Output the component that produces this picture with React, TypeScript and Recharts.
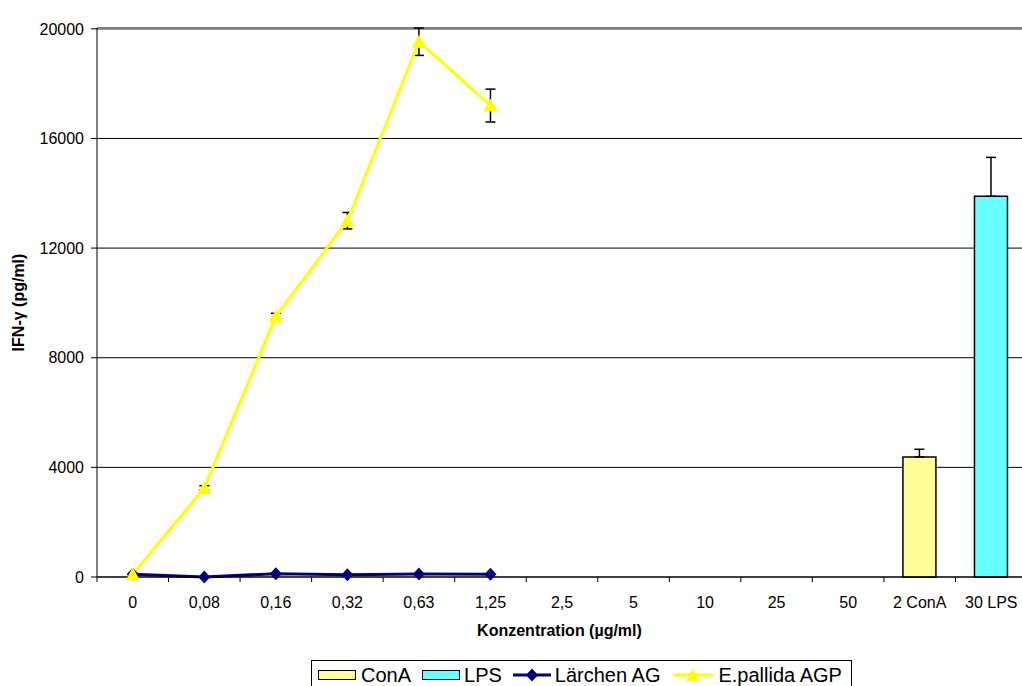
import {
  Bar,
  CartesianGrid,
  ComposedChart,
  ErrorBar,
  Label,
  Line,
  ReferenceLine,
  XAxis,
  YAxis,
} from 'recharts'

const categories = ['0', '0,08', '0,16', '0,32', '0,63', '1,25', '2,5', '5', '10', '25', '50', '2 ConA', '30 LPS']
const pallidaValues = [100, 3250, 9500, 13000, 19530, 17200, null, null, null, null, null, null, null]
const pallidaErrors = [30, 80, 120, 300, 500, 600, null, null, null, null, null, null, null]
const laerchenValues = [100, 0, 120, 80, 110, 100, null, null, null, null, null, null, null]
const conAValues = [null, null, null, null, null, null, null, null, null, null, null, 4380, null]
const conAErrors = [null, null, null, null, null, null, null, null, null, null, null, 280, null]
const lpsValues = [null, null, null, null, null, null, null, null, null, null, null, null, 13890]
const lpsErrors = [null, null, null, null, null, null, null, null, null, null, null, null, 1420]
const yTicks = [0, 4000, 8000, 12000, 16000, 20000]

const data = categories.map((name, i) => ({
  name,
  pallida: pallidaValues[i],
  pallidaErr: pallidaErrors[i],
  laerchen: laerchenValues[i],
  conA: conAValues[i],
  conAErr: conAErrors[i] == null ? null : [0, conAErrors[i]],
  lps: lpsValues[i],
  lpsErr: lpsErrors[i] == null ? null : [0, lpsErrors[i]],
}))

const FONT = "'Liberation Sans', Arial, sans-serif"
// plot area runs a little past the right edge of the picture
const CHART_W = 1027
const HALF_BAND = (CHART_W - 97) / categories.length / 2

function CategoryTick(props: any) {
  const { x, y, payload, index } = props
  return (
    <g>
      <line x1={x - HALF_BAND} x2={x - HALF_BAND} y1={y} y2={y + 5} stroke='#000' />
      {index === categories.length - 1 && (
        <line x1={x + HALF_BAND} x2={x + HALF_BAND} y1={y} y2={y + 5} stroke='#000' />
      )}
      <text x={x} y={y + 31} textAnchor='middle' fontSize={16} fontFamily={FONT} fill='#000'>
        {payload.value}
      </text>
    </g>
  )
}

function Triangle(props: any) {
  const { cx, cy, index } = props
  if (cx == null || cy == null) return <g key={'t' + index} />
  return (
    <polygon
      key={'t' + index}
      points={`${cx},${cy - 7} ${cx - 7},${cy + 6} ${cx + 7},${cy + 6}`}
      fill='#FFFF00'
    />
  )
}

function Diamond(props: any) {
  const { cx, cy, index } = props
  if (cx == null || cy == null) return <g key={'d' + index} />
  return (
    <polygon
      key={'d' + index}
      points={`${cx},${cy - 6.5} ${cx + 6},${cy} ${cx},${cy + 6.5} ${cx - 6},${cy}`}
      fill='#000080'
    />
  )
}

function LegendBox() {
  const text = { marginRight: 11, lineHeight: '20px' }
  return (
    <div
      style={{
        position: 'absolute',
        left: 311,
        top: 660,
        width: 541,
        height: 28,
        border: '1px solid #000',
        borderBottom: 'none',
        boxSizing: 'border-box',
        display: 'flex',
        alignItems: 'center',
        paddingLeft: 6,
        fontFamily: FONT,
        fontSize: 20,
        color: '#000',
        background: '#fff',
      }}
    >
      <svg width={38} height={10} style={{ marginRight: 5 }}>
        <rect x={0.5} y={0.5} width={37} height={9} fill='#FFFF99' stroke='#000' />
      </svg>
      <span style={text}>ConA</span>
      <svg width={38} height={10} style={{ marginRight: 4 }}>
        <rect x={0.5} y={0.5} width={37} height={9} fill='#66FFFF' stroke='#000' />
      </svg>
      <span style={text}>LPS</span>
      <svg width={38} height={14} style={{ marginRight: 4 }}>
        <line x1={0} x2={38} y1={7} y2={7} stroke='#000080' strokeWidth={3} />
        <polygon points='19,0.5 25,7 19,13.5 13,7' fill='#000080' />
      </svg>
      <span style={{ marginRight: 13, lineHeight: '20px' }}>Lärchen AG</span>
      <svg width={40} height={14} style={{ marginRight: 5 }}>
        <line x1={0} x2={40} y1={7} y2={7} stroke='#FFFF00' strokeWidth={3} />
        <polygon points='20,0.5 27,13 13,13' fill='#FFFF00' />
      </svg>
      <span style={{ lineHeight: '20px' }}>E.pallida AGP</span>
    </div>
  )
}

export default function App() {
  return (
    <div
      style={{
        position: 'absolute',
        left: 0,
        top: 0,
        width: 1022,
        height: 686,
        overflow: 'hidden',
        background: '#fff',
      }}
    >
      <ComposedChart
        width={CHART_W}
        height={686}
        data={data}
        margin={{ top: 28, right: 0, left: 0, bottom: 49 }}
      >
        <CartesianGrid vertical={false} stroke='#000' strokeWidth={1} />
        <ReferenceLine y={20000} stroke='#808080' strokeWidth={1.5} />
        <XAxis
          dataKey='name'
          interval={0}
          height={60}
          tickSize={0}
          tickMargin={0}
          tickLine={false}
          axisLine={{ stroke: '#000' }}
          tick={<CategoryTick />}
        >
          <Label
            content={(p: any) => {
              const vb = p.viewBox
              return (
                <text
                  x={(97 + 1022) / 2}
                  y={vb.y + 59}
                  textAnchor='middle'
                  fontSize={16}
                  fontWeight='bold'
                  fontFamily={FONT}
                  fill='#000'
                >
                  Konzentration (µg/ml)
                </text>
              )
            }}
          />
        </XAxis>
        <YAxis
          width={97}
          domain={[0, 20000]}
          ticks={yTicks}
          interval={0}
          tickSize={6}
          tickMargin={7}
          axisLine={{ stroke: '#000' }}
          tickLine={{ stroke: '#000' }}
          tick={{ fontSize: 16, fontFamily: FONT, fill: '#000' }}
        >
          <Label
            content={(p: any) => {
              const vb = p.viewBox
              const cy = vb.y + vb.height / 2
              return (
                <text
                  x={18}
                  y={cy}
                  transform={`rotate(-90, 18, ${cy})`}
                  textAnchor='middle'
                  dominantBaseline='central'
                  fontSize={16}
                  fontWeight='bold'
                  fontFamily={FONT}
                  fill='#000'
                >
                  IFN-γ (pg/ml)
                </text>
              )
            }}
          />
        </YAxis>
        <Bar dataKey='conA' stackId='ctrl' barSize={33} fill='#FFFF99' stroke='#000' strokeWidth={1.5} isAnimationActive={false}>
          <ErrorBar dataKey='conAErr' width={5} stroke='#000' strokeWidth={1.5} direction='y' />
        </Bar>
        <Bar dataKey='lps' stackId='ctrl' barSize={33} fill='#66FFFF' stroke='#000' strokeWidth={1.5} isAnimationActive={false}>
          <ErrorBar dataKey='lpsErr' width={5} stroke='#000' strokeWidth={1.5} direction='y' />
        </Bar>
        <Line
          dataKey='laerchen'
          stroke='#000080'
          strokeWidth={3}
          dot={(p: any) => <Diamond {...p} />}
          activeDot={false}
          isAnimationActive={false}
        />
        <Line
          dataKey='pallida'
          stroke='#FFFF00'
          strokeWidth={3}
          dot={(p: any) => <Triangle {...p} />}
          activeDot={false}
          isAnimationActive={false}
        >
          <ErrorBar dataKey='pallidaErr' width={5} stroke='#000' strokeWidth={1.5} direction='y' />
        </Line>
      </ComposedChart>
      <LegendBox />
    </div>
  )
}
